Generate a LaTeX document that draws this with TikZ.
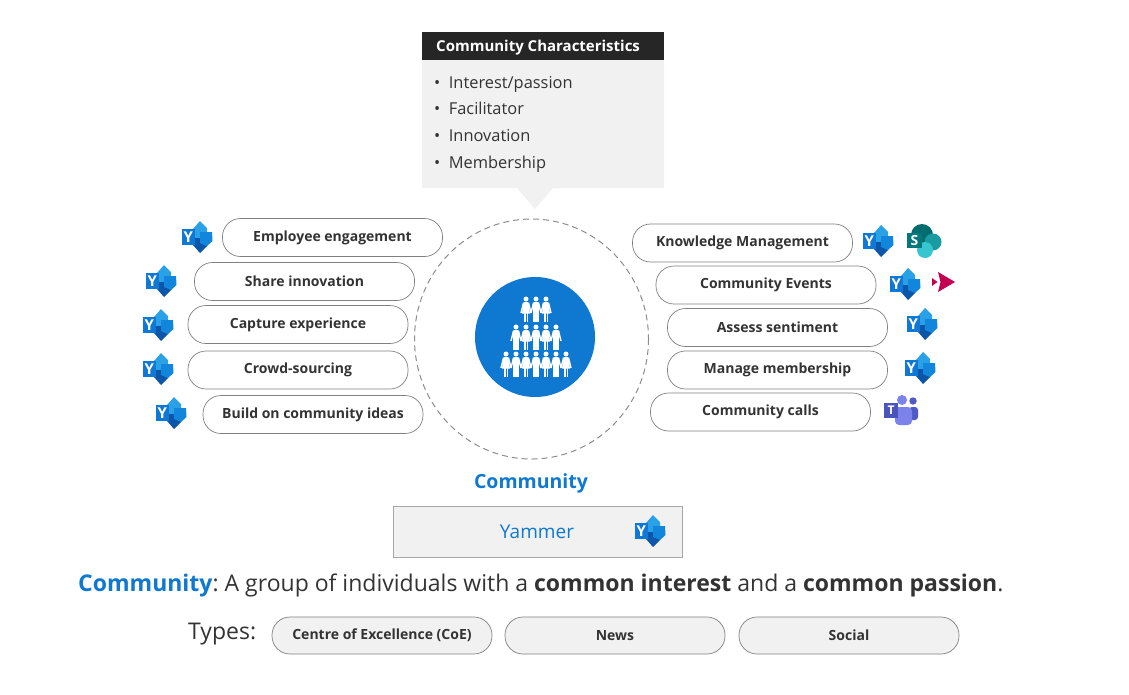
\documentclass[tikz,border=0pt]{standalone}
\usepackage{fontspec}
\setmainfont{Open Sans}
\usepackage{tikz}
\usetikzlibrary{positioning}
\definecolor{ablue}{HTML}{0F78D0}
\definecolor{ink}{HTML}{333333}
\definecolor{paleg}{HTML}{F1F1F1}
\definecolor{ytop}{HTML}{2AA0E6}
\definecolor{yright}{HTML}{1285DC}
\definecolor{ylow}{HTML}{0B56A8}
\definecolor{ybox}{HTML}{0F78D4}
\definecolor{spa}{HTML}{036C70}
\definecolor{spb}{HTML}{1A9BA1}
\definecolor{spc}{HTML}{37C6D0}
\definecolor{spd}{HTML}{03787C}
\definecolor{tma}{HTML}{7B83EB}
\definecolor{tmb}{HTML}{5059C9}
\definecolor{tmc}{HTML}{4B53BC}
\definecolor{strm}{HTML}{C30052}
\newcommand{\fs}[1]{\fontsize{#1}{#1}\selectfont}
\frenchspacing
\tikzset{
  pill/.style = {draw=black!50, rounded corners=18pt, minimum width=220pt, minimum height=38pt, inner sep=0pt, line width=0.7pt, text=ink, font=\fs{14}\bfseries},
  typepill/.style = {pill, fill=paleg, minimum height=37pt, font=\fs{14}\bfseries},
  bullet/.style = {anchor=base west, inner sep=0pt, text=ink, font=\fs{16.4}},
  yammer/.pic = {
    \fill[fill=ytop] (-4,-8) -- (3,-16) -- (10,-9) -- (10,1) -- (-4,1) -- cycle;
    \fill[fill=ylow] (-4,1) -- (10,1) -- (10,9) -- (3,16) -- (-4,8) -- cycle;
    \fill[fill=yright] (3,-5) -- (15,-5) -- (15.5,4) -- (10,9) -- (3,6) -- cycle;
    \fill[fill=ybox] (-15.5,-8) rectangle (-2,8);
    \node[text=white, inner sep=0pt, font=\fs{15}\bfseries] (-letter) at (-8.7,0) {Y};
  },
  sharepoint/.pic = {
    \fill[fill=spa] (-3,-6) circle (11);
    \fill[fill=spb] (8,1) circle (8.5);
    \fill[fill=spc] (0,9) circle (8);
    \fill[fill=spd] (-18,-8) rectangle (-3,7);
    \node[text=white, inner sep=0pt, font=\fs{14}\bfseries] (-letter) at (-10.5,-0.5) {S};
  },
  stream/.pic = {
    \fill[fill=strm] (-5,-10) -- (12,0) -- (-5,10) -- (-2.5,0) -- cycle;
    \fill[fill=strm] (-11,-4) -- (-5.5,0) -- (-11,4) -- cycle;
  },
  teams/.pic = {
    \fill[fill=tma] (1,-11) circle (5);
    \fill[fill=tmb] (12,-10) circle (3.7);
    \fill[fill=tmb, rounded corners=3pt] (8,-4) rectangle (17,9);
    \fill[fill=tma, rounded corners=4pt] (-6,-4) rectangle (11,14);
    \fill[fill=tmc] (-17,-8) rectangle (-3,7);
    \node[text=white, inner sep=0pt, font=\fs{12}\bfseries] (-letter) at (-10,-0.5) {T};
  },
  man/.pic = {
    \fill[white] (0,0) circle (2.5);
    \fill[white, rounded corners=1pt] (-3,3) rectangle (3,13);
    \fill[white] (-3,12) rectangle (-0.4,23);
    \fill[white] (0.4,12) rectangle (3,23);
    \draw[white, line width=1.4pt] (-2.5,3.8) -- (-5,14);
    \draw[white, line width=1.4pt] (2.5,3.8) -- (5,14);
  },
  woman/.pic = {
    \fill[white] (0,0) circle (2.5);
    \fill[white] (-2.3,3) -- (2.3,3) -- (4,14.5) -- (-4,14.5) -- cycle;
    \fill[white] (-2.2,14) rectangle (-0.5,23);
    \fill[white] (0.5,14) rectangle (2.2,23);
    \draw[white, line width=1.4pt] (-2.5,3.8) -- (-5,14);
    \draw[white, line width=1.4pt] (2.5,3.8) -- (5,14);
  }
}
\begin{document}
\begin{tikzpicture}[x=1pt, y=-1pt]
  \useasboundingbox (0,0) rectangle (1129,694);
  % callout
  \fill[paleg] (422,60) -- (664,60) -- (664,188) -- (553,188) -- (535,209) -- (517,188) -- (422,188) -- cycle;
  \node[fill=black!85, text=white, minimum width=242pt, minimum height=28pt, inner sep=0pt] (head) at (543,46) {};
  \node[anchor=west, inner sep=0pt, text=white, font=\fs{15}\bfseries] (title) at (436,48) {Community Characteristics};
  \node[bullet] (b1) at (434,88) {•\hspace{8.5pt}Interest/passion};
  \node[bullet] (b2) at (434,114) {•\hspace{8.5pt}Facilitator};
  \node[bullet] (b3) at (434,141) {•\hspace{8.5pt}Innovation};
  \node[bullet] (b4) at (434,168) {•\hspace{8.5pt}Membership};
  % centre
  \draw[black!45, line width=1pt, dash pattern=on 6pt off 4pt] (531.5,339) ellipse (117 and 120);
  \fill[ablue] (535,337) circle (60);
  \foreach \i in {-1,1} \pic at (536+10*\i,299) {woman};
  \pic at (536,299) {man};
  \foreach \i in {-2,0,2} \pic at (536+10*\i,327) {man};
  \foreach \i in {-1,1} \pic at (536+10*\i,327) {woman};
  \foreach \i in {-3,-1,1,3} \pic at (536+10*\i,354) {woman};
  \foreach \i in {-2,0,2} \pic at (536+10*\i,354) {man};
  % left side
  \node[pill] (engage) at (332.5,237.5) {\raisebox{1pt}{Employee engagement}};
  \node[pill] (share) at (304.5,281.5) {Share innovation};
  \node[pill] (capture) at (298,324.5) {Capture experience};
  \node[pill] (crowd) at (298,370) {\raisebox{1pt}{Crowd-sourcing}};
  \node[pill] (ideas) at (313,414.5) {Build on community ideas};
  \pic (y1) at (197,237) {yammer};
  \pic (y2) at (161,281) {yammer};
  \pic (y3) at (158,325) {yammer};
  \pic (y4) at (158,369) {yammer};
  \pic (y5) at (171,413) {yammer};
  % right side
  \node[pill] (knowledge) at (742.5,243) {Knowledge Management};
  \node[pill] (events) at (766,285) {Community Events};
  \node[pill] (assess) at (777.5,327.5) {Assess sentiment};
  \node[pill] (manage) at (777.5,370) {Manage membership};
  \node[pill] (calls) at (760.5,412) {Community calls};
  \pic (y6) at (878,241) {yammer};
  \pic (y7) at (905,284) {yammer};
  \pic (y8) at (922,324) {yammer};
  \pic (y9) at (920,368) {yammer};
  \pic (sp) at (925,241) {sharepoint};
  \pic (st) at (943,282) {stream};
  \pic (te) at (901,411) {teams};
  % bottom
  \node[text=ablue, inner sep=0pt, font=\fs{19.5}\bfseries] (community) at (531,483) {Community};
  \node[draw=black!35, fill=paleg, minimum width=289pt, minimum height=51pt, inner sep=0pt] (platform) at (537.5,531.5) {};
  \node[text=ablue, inner sep=0pt, font=\fs{19}] (yam) at (537,532) {Yammer};
  \pic (y10) at (650,531) {yammer};
  \node[anchor=base west, inner sep=0pt, text=ink, font=\fs{23}] (defn) at (78,591) {\textcolor{ablue}{\bfseries Community}: A group of individuals with a \textbf{common interest} and a \textbf{common passion}.};
  \node[anchor=base west, inner sep=0pt, text=ink, font=\fs{23}] (types) at (188,639) {Types:};
  \node[typepill] (coe) at (382,635.5) {Centre of Excellence (CoE)};
  \node[typepill] (news) at (615,635.5) {News};
  \node[typepill] (social) at (849,635.5) {Social};
\end{tikzpicture}
\end{document}
